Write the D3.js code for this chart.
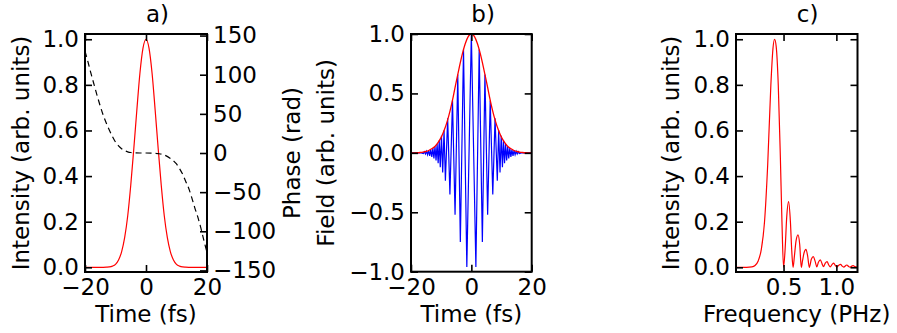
<!DOCTYPE html>
<html lang="en">

<head>
    <meta charset="UTF-8">
    <title>Pulse: intensity, field, spectrum</title>
    <script src="https://d3js.org/d3.v7.min.js"></script>
    <style>
        body {
            margin: 0;
            background: #fff;
        }

        text {
            font-family: "DejaVu Sans", sans-serif;
            fill: #000;
        }

        .tick line {
            stroke: #000;
            stroke-width: 1.6;
        }

        .frame {
            fill: none;
            stroke: #000;
            stroke-width: 2;
        }
    </style>
</head>

<body>
    <div id="chart"></div>

    <script>
        // a) intensity vs time
        const timeA = [-20, -16, -14, -13, -12, -11, -10, -9, -8, -7, -6, -5, -4, -3, -2, -1, 0,
            1, 2, 3, 4, 5, 6, 7, 8, 9, 10, 11, 12, 13, 14, 16, 20];
        const intensityA = [0, 0, 0, 0.0005, 0.0015, 0.005, 0.013, 0.032, 0.068, 0.13, 0.225, 0.36, 0.52, 0.69, 0.85, 0.96, 1.0,
            0.96, 0.85, 0.69, 0.52, 0.36, 0.225, 0.13, 0.068, 0.032, 0.013, 0.005, 0.0015, 0.0005, 0, 0, 0];

        // a) phase (right axis, dashed)
        const phaseT = [-20, -19, -18, -17, -16, -15, -14, -13, -12, -11, -10, -9, -8, -7, -6, -5, -4, -2, 0,
            2, 4, 6, 8, 9, 10, 11, 12, 13, 14, 15, 16, 17, 18, 19, 20];
        const phaseA = [130, 116, 101, 87, 73, 60, 48, 38, 29, 21, 14, 9, 5.5, 3, 1.5, 0.6, 0.2, 0, 0,
            -0.2, -0.8, -2.5, -7, -10, -14, -20, -27, -36, -45, -57, -70, -82, -96, -112, -127];

        // b) envelope
        const envT = [-20, -19, -18, -17, -16, -15, -14, -13, -12, -11, -10, -9, -8, -7, -6, -5, -4, -3, -2, -1, 0,
            1, 2, 3, 4, 5, 6, 7, 8, 9, 10, 11, 12, 13, 14, 15, 16, 17, 18, 19, 20];
        const envB = [0, 0, 0.001, 0.003, 0.006, 0.012, 0.022, 0.036, 0.056, 0.088, 0.13, 0.19, 0.265, 0.36, 0.474, 0.6, 0.72, 0.83, 0.92, 0.98, 1.0,
            0.98, 0.92, 0.83, 0.72, 0.6, 0.474, 0.36, 0.265, 0.19, 0.13, 0.088, 0.056, 0.036, 0.022, 0.012, 0.006, 0.003, 0.001, 0, 0];

        // b) field turning points
        const fieldT = [-20, -16.6, -15.9, -15.55, -15.2, -14.85, -14.5, -14.15, -13.8, -13.45, -13.1, -12.75, -12.4, -12.05,
            -11.7, -11.35, -11.0, -10.65, -10.3, -9.9, -9.5, -9.05, -8.6, -7.85, -7.1, -6.25, -5.4, -4.5, -3.65, -2.6, -1.5, 0,
            1.5, 2.6, 3.65, 4.5, 5.4, 6.25, 7.1, 7.85, 8.6, 9.05, 9.5, 9.9, 10.3, 10.65, 11.0, 11.35, 11.7, 12.05, 12.4, 12.75,
            13.1, 13.45, 13.8, 14.15, 14.5, 14.85, 15.2, 15.55, 15.9, 16.6, 20];
        const fieldB = [0, 0, -0.005, 0.009, -0.01, 0.013, -0.016, 0.02, -0.025, 0.027, -0.035, 0.04, -0.048, 0.054,
            -0.065, 0.075, -0.088, 0.103, -0.12, 0.143, -0.165, 0.19, -0.235, 0.29, -0.35, 0.44, -0.52, 0.66, -0.75, 0.87, -0.96, 1.0,
            -0.96, 0.87, -0.75, 0.66, -0.52, 0.44, -0.35, 0.29, -0.235, 0.19, -0.165, 0.143, -0.12, 0.103, -0.088, 0.075, -0.065, 0.054, -0.048, 0.04,
            -0.035, 0.027, -0.025, 0.02, -0.016, 0.013, -0.01, 0.009, -0.005, 0, 0];

        // c) spectrum
        const freqC = [0.05, 0.15, 0.2, 0.23, 0.26, 0.29, 0.32, 0.35, 0.38, 0.4, 0.415, 0.43, 0.45, 0.47, 0.485, 0.5,
            0.515, 0.53, 0.548, 0.565, 0.578, 0.59,
            0.603, 0.618, 0.637, 0.653, 0.668,
            0.68, 0.695, 0.712, 0.728, 0.744,
            0.763, 0.782, 0.8, 0.815,
            0.83, 0.848, 0.865, 0.878,
            0.895, 0.912, 0.928, 0.942,
            0.96, 0.975, 0.99, 1.005,
            1.025, 1.04, 1.055, 1.07,
            1.09, 1.1, 1.115, 1.13,
            1.15, 1.16, 1.175, 1.19, 1.2];
        const specC = [0, 0, 0.002, 0.008, 0.028, 0.08, 0.2, 0.45, 0.8, 0.96, 1.0, 0.97, 0.8, 0.48, 0.2, 0,
            0.08, 0.22, 0.288, 0.2, 0.07, 0,
            0.05, 0.115, 0.142, 0.1, 0,
            0.03, 0.065, 0.079, 0.05, 0,
            0.035, 0.047, 0.025, 0.002,
            0.022, 0.033, 0.015, 0.003,
            0.018, 0.025, 0.01, 0.002,
            0.013, 0.018, 0.008, 0.001,
            0.01, 0.013, 0.005, 0.001,
            0.008, 0.01, 0.004, 0.001,
            0.006, 0.007, 0.003, 0.001, 0.004];

        // ticks
        const timeTicks = [-20, 0, 20];
        const intTicks = [0, 0.2, 0.4, 0.6, 0.8, 1.0];
        const phaseTicks = [-150, -100, -50, 0, 50, 100, 150];
        const fieldTicks = [-1, -0.5, 0, 0.5, 1];
        const freqTicks = [0.5, 1.0];

        const W = 897, H = 333;
        const FS = 23;
        const TICK = -7;
        const minus = s => s.replace("-", "\u2212");

        const svg = d3.select("#chart").append("svg")
            .attr("width", W).attr("height", H);
        svg.append("rect").attr("width", W).attr("height", H).attr("fill", "#fff");

        function zip(xs, ys) {
            return xs.map((x, i) => ({ x: x, y: ys[i] }));
        }

        // one panel: frame, ticks on all four sides, labels
        function panel(opt) {
            const g = svg.append("g").attr("transform", `translate(${opt.left},${opt.top})`);
            const w = opt.right - opt.left, h = opt.bottom - opt.top;
            const x = d3.scaleLinear().domain(opt.xDomain).range([0, w]);
            const y = d3.scaleLinear().domain(opt.yDomain).range([h, 0]);

            const clip = "clip-" + opt.name;
            g.append("clipPath").attr("id", clip)
                .append("rect").attr("width", w).attr("height", h);
            const plot = g.append("g").attr("clip-path", `url(#${clip})`);

            const axes = [
                g.append("g").call(d3.axisLeft(y).tickValues(opt.yTicks).tickSize(TICK).tickPadding(6).tickFormat(opt.yFmt)),
                g.append("g").attr("transform", `translate(0,${h})`)
                    .call(d3.axisBottom(x).tickValues(opt.xTicks).tickSize(TICK).tickPadding(7).tickFormat(opt.xFmt)),
                g.append("g").call(d3.axisTop(x).tickValues(opt.xTicks).tickSize(TICK).tickFormat(""))
            ];
            if (!opt.noRight) {
                axes.push(g.append("g").attr("transform", `translate(${w},0)`)
                    .call(d3.axisRight(y).tickValues(opt.yTicks).tickSize(TICK).tickFormat("")));
            }
            axes.forEach(a => {
                a.select(".domain").remove();
                a.selectAll("text").attr("font-size", FS).attr("font-family", null);
            });

            g.append("rect").attr("class", "frame").attr("width", w).attr("height", h);

            // title sits to the right of the centre, like the original
            g.append("text").attr("x", w / 2).attr("y", -12)
                .attr("font-size", FS).text(opt.title);

            g.append("text").attr("x", w / 2).attr("y", h + 50)
                .attr("font-size", FS).attr("text-anchor", "middle").text(opt.xLabel);

            g.append("text").attr("transform", `translate(${opt.yLabelX - opt.left},${h / 2}) rotate(-90)`)
                .attr("font-size", FS).attr("text-anchor", "middle").text(opt.yLabel);

            return { g: g, plot: plot, x: x, y: y, w: w, h: h };
        }

        const fmt1 = d => minus(d3.format(".1f")(d));
        const fmt0 = d => minus(d3.format("d")(d));

        // ---- a) ----
        const pa = panel({
            name: "a", left: 85, right: 207, top: 34, bottom: 272,
            xDomain: [-20, 20], yDomain: [-0.0206, 1.023],
            xTicks: timeTicks, yTicks: intTicks, xFmt: fmt0, yFmt: fmt1,
            title: "a)", xLabel: "Time (fs)", yLabel: "Intensity (arb. units)", yLabelX: 29,
            noRight: true
        });
        const yPhase = d3.scaleLinear().domain([-152, 152]).range([pa.h, 0]);
        const rightAx = pa.g.append("g").attr("transform", `translate(${pa.w},0)`)
            .call(d3.axisRight(yPhase).tickValues(phaseTicks).tickSize(TICK).tickPadding(6).tickFormat(fmt0));
        rightAx.select(".domain").remove();
        rightAx.selectAll("text").attr("font-size", FS).attr("font-family", null);
        pa.g.append("text").attr("transform", `translate(${300 - 85},${pa.h / 2}) rotate(-90)`)
            .attr("font-size", FS).attr("text-anchor", "middle").text("Phase (rad)");

        pa.plot.append("path").datum(zip(timeA, intensityA))
            .attr("fill", "none").attr("stroke", "#ff0000").attr("stroke-width", 1.2)
            .attr("d", d3.line().x(d => pa.x(d.x)).y(d => pa.y(d.y)).curve(d3.curveMonotoneX));
        pa.plot.append("path").datum(zip(phaseT, phaseA))
            .attr("fill", "none").attr("stroke", "#000").attr("stroke-width", 1.2)
            .attr("stroke-dasharray", "6,4")
            .attr("d", d3.line().x(d => pa.x(d.x)).y(d => yPhase(d.y)).curve(d3.curveMonotoneX));

        // ---- b) ----
        const pb = panel({
            name: "b", left: 411, right: 531.7, top: 34, bottom: 271.7,
            xDomain: [-20, 20], yDomain: [-1, 1],
            xTicks: timeTicks, yTicks: fieldTicks, xFmt: fmt0, yFmt: fmt1,
            title: "b)", xLabel: "Time (fs)", yLabel: "Field (arb. units)", yLabelX: 334
        });
        pb.plot.append("path").datum(zip(fieldT, fieldB))
            .attr("fill", "none").attr("stroke", "#0000ff").attr("stroke-width", 1.2)
            .attr("d", d3.line().x(d => pb.x(d.x)).y(d => pb.y(d.y)));
        pb.plot.append("path").datum(zip(envT, envB))
            .attr("fill", "none").attr("stroke", "#ff0000").attr("stroke-width", 1.3)
            .attr("d", d3.line().x(d => pb.x(d.x)).y(d => pb.y(d.y)).curve(d3.curveMonotoneX));

        // ---- c) ----
        const pc = panel({
            name: "c", left: 736, right: 857.5, top: 34, bottom: 272,
            xDomain: [0.05, 1.2], yDomain: [-0.0206, 1.023],
            xTicks: freqTicks, yTicks: intTicks, xFmt: fmt1, yFmt: fmt1,
            title: "c)", xLabel: "Frequency (PHz)", yLabel: "Intensity (arb. units)", yLabelX: 679
        });
        pc.plot.append("path").datum(zip(freqC, specC))
            .attr("fill", "none").attr("stroke", "#ff0000").attr("stroke-width", 1.2)
            .attr("d", d3.line().x(d => pc.x(d.x)).y(d => pc.y(d.y)).curve(d3.curveMonotoneX));
    </script>
</body>

</html>
